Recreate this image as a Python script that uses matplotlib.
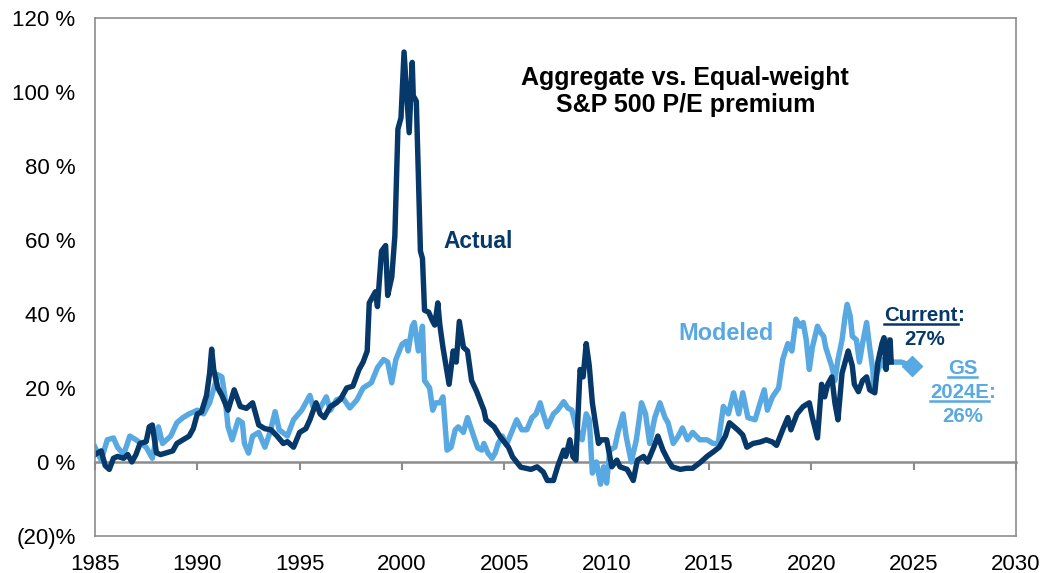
import matplotlib
matplotlib.use('Agg')
import matplotlib.pyplot as plt
from matplotlib.lines import Line2D

# Дані (рік, премія P/E у %)
actual_years = [1985.0, 1985.3, 1985.5, 1985.7, 1985.9, 1986.1, 1986.4, 1986.6, 1986.8, 1987.0,
                1987.2, 1987.5, 1987.65, 1987.8, 1988.0, 1988.2, 1988.5, 1988.8, 1989.0, 1989.3,
                1989.6, 1989.8, 1990.0, 1990.2, 1990.45, 1990.6, 1990.7, 1990.8, 1991.0, 1991.2,
                1991.5, 1991.8, 1992.1, 1992.4, 1992.7, 1993.0, 1993.3, 1993.6, 1993.9, 1994.2,
                1994.4, 1994.7, 1995.0, 1995.3, 1995.5, 1995.8, 1996.0, 1996.2, 1996.5, 1996.8,
                1997.0, 1997.3, 1997.6, 1997.9, 1998.1, 1998.3, 1998.4, 1998.6, 1998.7, 1998.8,
                1999.0, 1999.2, 1999.3, 1999.5, 1999.65, 1999.8, 1999.95, 2000.1, 2000.2, 2000.35,
                2000.5, 2000.55, 2000.7, 2000.9, 2001.0, 2001.1, 2001.3, 2001.5, 2001.6, 2001.75,
                2001.85, 2002.0, 2002.3, 2002.5, 2002.65, 2002.8, 2003.0, 2003.2, 2003.4, 2003.65,
                2004.0, 2004.1, 2004.5, 2004.8, 2005.2, 2005.4, 2005.8, 2006.3, 2006.6, 2006.9,
                2007.1, 2007.4, 2007.6, 2007.9, 2008.0, 2008.2, 2008.35, 2008.5, 2008.7, 2008.85,
                2009.0, 2009.15, 2009.3, 2009.6, 2009.75, 2010.0, 2010.25, 2010.5, 2010.65, 2011.0,
                2011.3, 2011.5, 2011.8, 2012.0, 2012.3, 2012.5, 2012.75, 2013.0, 2013.2, 2013.6,
                2013.9, 2014.2, 2014.6, 2014.9, 2015.2, 2015.5, 2015.8, 2016.0, 2016.4, 2016.65,
                2016.85, 2017.15, 2017.5, 2017.8, 2018.1, 2018.3, 2018.6, 2018.85, 2019.0, 2019.3,
                2019.6, 2019.9, 2020.05, 2020.3, 2020.5, 2020.65, 2020.8, 2021.0, 2021.15, 2021.3,
                2021.5, 2021.65, 2021.8, 2022.0, 2022.1, 2022.3, 2022.5, 2022.7, 2022.85, 2023.1,
                2023.25, 2023.45, 2023.55, 2023.65, 2023.75, 2023.85, 2023.9]
actual_vals = [2, 3, -1, -2, 1, 1.5, 1, 2, 0, 2,
               5, 5.5, 9.5, 10, 2.5, 2, 2.5, 3, 5, 6,
               7, 9, 13, 13.5, 18, 24, 30.5, 25, 20, 18,
               14, 19.5, 15, 14.5, 16, 10, 9, 8.7, 7, 5,
               5.5, 4, 8, 9, 11.4, 16, 13, 12, 15, 16,
               17, 20, 20.5, 25, 27, 30, 43, 45, 46, 42,
               57, 58.5, 45, 50, 61, 90, 93, 110.8, 102, 89,
               108, 99, 97.5, 57, 55, 41, 40.5, 38, 37, 43,
               37, 31, 21, 30, 27, 38, 31, 30, 22, 19,
               14, 11.4, 9.5, 6.8, 4, 1.4, -1.4, -2, -1.3, -2.7,
               -5, -5, -1.3, 3.2, 1.5, 6, 1.4, 0.5, 25, 23,
               32, 26, 16, 5, 6, 6, -1.3, 0.5, -1.3, -2,
               -5, 0.5, 1.5, 0, 4, 7, 3.2, 0.5, -1.3, -2,
               -1.7, -1.7, 0, 1.5, 2.7, 4, 7, 10.6, 8.7, 7.3,
               4, 5, 5.4, 6, 5.4, 4.5, 8.7, 12, 8.7, 13,
               15, 16, 12, 6.5, 21, 17.6, 21, 23, 16, 11.4,
               24, 27, 30, 26, 21, 19, 22, 23, 19.5, 18.7,
               27, 32, 33.6, 25, 32, 33, 27]

modeled_years = [1985.0, 1985.3, 1985.6, 1985.9, 1986.1, 1986.4, 1986.7, 1987.0, 1987.25, 1987.5,
                 1987.8, 1988.1, 1988.3, 1988.7, 1989.0, 1989.3, 1989.6, 1990.0, 1990.3, 1990.6,
                 1991.0, 1991.2, 1991.35, 1991.5, 1991.7, 1992.0, 1992.2, 1992.3, 1992.5, 1992.7,
                 1993.0, 1993.3, 1993.55, 1993.8, 1994.0, 1994.4, 1994.7, 1995.1, 1995.5, 1995.65,
                 1996.0, 1996.3, 1996.5, 1996.8, 1997.1, 1997.45, 1997.8, 1998.1, 1998.5, 1998.8,
                 1999.1, 1999.3, 1999.5, 1999.7, 2000.0, 2000.2, 2000.3, 2000.5, 2000.6, 2000.8,
                 2001.0, 2001.1, 2001.35, 2001.5, 2001.65, 2001.85, 2002.0, 2002.2, 2002.4, 2002.6,
                 2002.75, 2003.0, 2003.2, 2003.35, 2003.5, 2003.7, 2003.9, 2004.0, 2004.2, 2004.4,
                 2004.55, 2004.7, 2004.9, 2005.1, 2005.4, 2005.6, 2005.85, 2006.1, 2006.35, 2006.55,
                 2006.75, 2006.9, 2007.1, 2007.4, 2007.6, 2007.9, 2008.1, 2008.3, 2008.5, 2008.8,
                 2009.0, 2009.15, 2009.3, 2009.5, 2009.7, 2009.85, 2010.0, 2010.15, 2010.4, 2010.55,
                 2010.8, 2010.95, 2011.2, 2011.45, 2011.7, 2011.9, 2012.1, 2012.35, 2012.6, 2012.85,
                 2013.0, 2013.25, 2013.5, 2013.7, 2013.95, 2014.2, 2014.55, 2014.9, 2015.2, 2015.45,
                 2015.7, 2015.95, 2016.2, 2016.45, 2016.65, 2016.9, 2017.25, 2017.5, 2017.7, 2017.85,
                 2018.1, 2018.4, 2018.6, 2018.85, 2019.05, 2019.25, 2019.45, 2019.6, 2019.75, 2019.9,
                 2020.05, 2020.3, 2020.45, 2020.6, 2020.7, 2021.0, 2021.15, 2021.3, 2021.5, 2021.65,
                 2021.75, 2021.9, 2022.0, 2022.2, 2022.35, 2022.5, 2022.7, 2022.85, 2023.0, 2023.05,
                 2023.2, 2023.45, 2023.6, 2023.75, 2023.85, 2024.0, 2024.4, 2024.9]
modeled_vals = [4, 0.5, 6, 6.5, 4, 2, 7, 6, 5, 4,
                1, 9.5, 5, 7, 10.6, 12, 13, 14, 13, 16,
                23.6, 23, 17.6, 9.5, 6, 11.4, 10.6, 5, 2.4, 7,
                8, 4, 8, 13.6, 8.7, 7, 11.4, 14, 18, 15,
                14.6, 17.6, 14, 16.8, 17.4, 14.6, 16.8, 20, 21.4, 25.5,
                27.7, 27, 21.4, 27.7, 31.8, 32.6, 30, 36.7, 37.7, 30,
                36.7, 22, 20, 14, 16, 16, 17.6, 3.2, 4, 8.7,
                9.5, 8, 12, 9.5, 7, 3.8, 3.2, 5, 2.4, 1,
                2.4, 5, 7, 4.6, 8.7, 11.4, 8.7, 8.7, 12, 13,
                16, 13, 9.5, 13, 14, 16.3, 14.6, 14, 9.5, 6,
                13, 11.4, -3, 0, -6, -1.3, -5.7, 3.2, 4, 8,
                13, 7, 0, 6, 16, 13, 5, 12, 16, 12,
                10.6, 5, 7, 9.2, 6, 8, 6, 6, 5, 5,
                15, 13, 18.7, 13, 18.7, 12, 11.4, 16, 19.5, 14,
                17.6, 20, 27.7, 32, 30, 38.6, 36.7, 37.7, 33, 25,
                31, 36.7, 35, 34, 31, 25.8, 22, 27.7, 33, 39.4,
                42.6, 39.4, 34, 33, 27, 32, 37.7, 31, 25, 19.5,
                24, 27.7, 25.5, 33, 27.7, 27, 27, 26]

x_ticks = [1985, 1990, 1995, 2000, 2005, 2010, 2015, 2020, 2025, 2030]
y_ticks = [-20, 0, 20, 40, 60, 80, 100, 120]
y_labels = ['(20)%', '0 %', '20 %', '40 %', '60 %', '80 %', '100 %', '120 %']

dark = '#06386A'
light = '#58A8E2'
grey = '#8C8C8C'

plt.rcParams['font.family'] = ['Liberation Sans', 'DejaVu Sans']

fig = plt.figure(figsize=(10.52, 5.73), dpi=100)
ax = fig.add_axes([0.0903, 0.0646, 0.8755, 0.9040])

ax.plot(modeled_years, modeled_vals, color=light, lw=3.9, solid_joinstyle='round')
ax.plot(actual_years, actual_vals, color=dark, lw=3.9, solid_joinstyle='round')
ax.plot([modeled_years[-1]], [modeled_vals[-1]], marker='D', color=light, markersize=10)

ax.set_xlim(1985, 2030)
ax.set_ylim(-20, 120)
ax.set_xticks(x_ticks)
ax.set_xticklabels([str(x) for x in x_ticks], fontsize=16)
ax.set_yticks(y_ticks)
ax.set_yticklabels(y_labels, fontsize=16)
ax.tick_params(axis='x', length=0, pad=13)
ax.tick_params(axis='y', length=0, pad=14)
for s in ax.spines.values():
    s.set_color(grey)
    s.set_linewidth(1.2)

# вісь нуля з рисками
zero_ax = ax.secondary_xaxis(20 / 140)
zero_ax.set_xticks(x_ticks)
zero_ax.set_xticklabels([])
zero_ax.tick_params(length=6, width=1.5, color=grey, direction='out')
zero_ax.spines['bottom'].set_color(grey)
zero_ax.spines['bottom'].set_linewidth(1.8)

ax.text(0.641, 0.858, 'Aggregate vs. Equal-weight\nS&P 500 P/E premium', transform=ax.transAxes,
        ha='center', va='center', fontsize=18, fontweight='bold', linespacing=1.18)
ax.text(2002.0, 59.7, 'Actual', color=dark, fontsize=16.4, fontweight='bold', va='center')
ax.text(2013.5, 34.6, 'Modeled', color=light, fontsize=16.9, fontweight='bold', va='center')

fs = 14.7
t_cur = ax.text(2027.15, 39.7, 'Current', color=dark, fontsize=fs, fontweight='bold',
                ha='right', va='center')
ax.text(2027.15, 39.7, ':', color=dark, fontsize=fs, fontweight='bold', ha='left', va='center')
ax.text(2025.55, 33.2, '27%', color=dark, fontsize=fs, fontweight='bold', ha='center', va='center')

t_gs = ax.text(2027.4, 25.4, 'GS', color=light, fontsize=fs, fontweight='bold',
               ha='center', va='center')
t_e = ax.text(2028.67, 18.9, '2024E', color=light, fontsize=fs, fontweight='bold',
              ha='right', va='center')
ax.text(2028.67, 18.9, ':', color=light, fontsize=fs, fontweight='bold', ha='left', va='center')
ax.text(2027.4, 12.2, '26%', color=light, fontsize=fs, fontweight='bold', ha='center', va='center')

# підкреслення
fig.canvas.draw()
r = fig.canvas.get_renderer()
inv = fig.transFigure.inverted()
for t, c in [(t_cur, dark), (t_gs, light), (t_e, light)]:
    bb = t.get_window_extent(r)
    (x0, y0), (x1, y1) = inv.transform([(bb.x0, bb.y0 + 1), (bb.x1, bb.y0 + 1)])
    fig.add_artist(Line2D([x0, x1], [y0, y1], color=c, lw=1.8))

fig.savefig('out.png', dpi=100)
